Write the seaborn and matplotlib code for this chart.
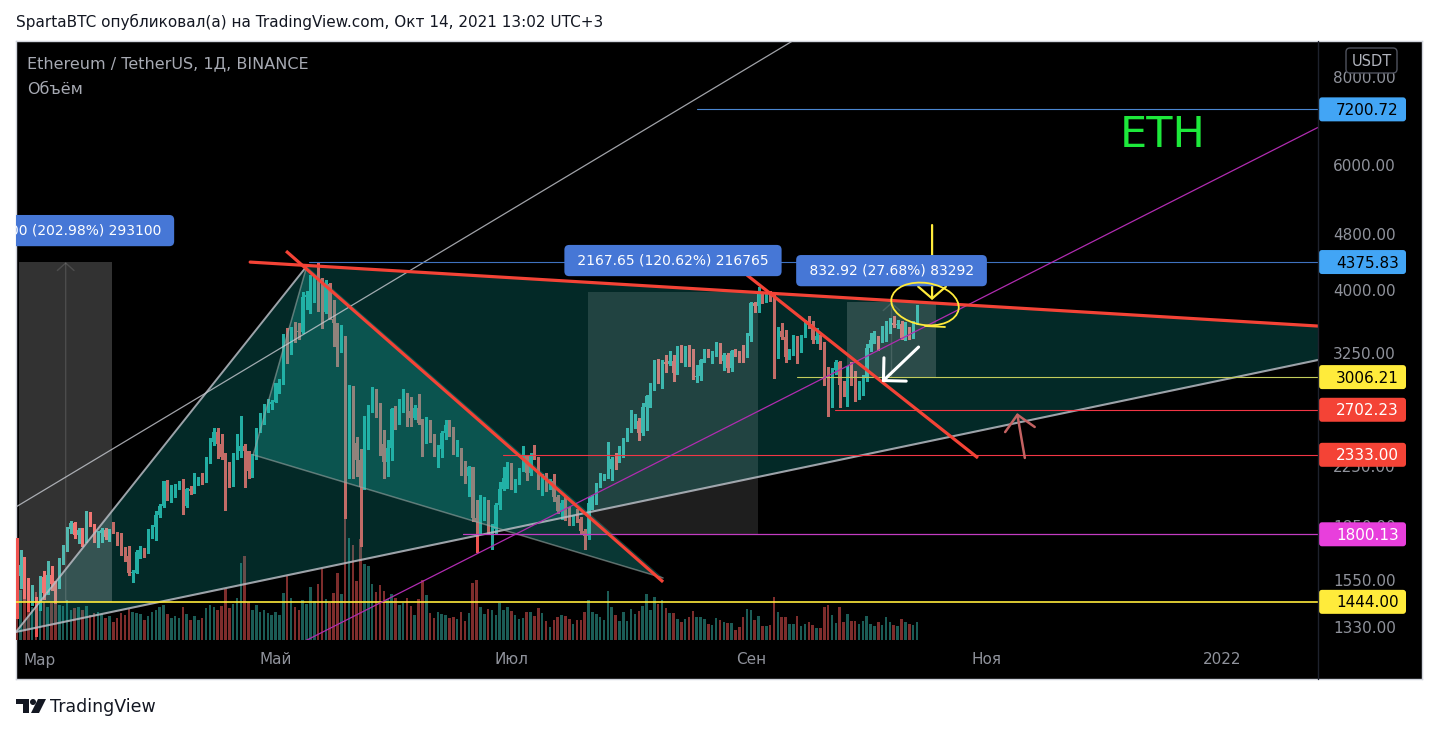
import numpy as np
import pandas as pd
import matplotlib
matplotlib.use("Agg")
import matplotlib.pyplot as plt
import matplotlib.dates as mdates
import matplotlib.patches as mpatches
import matplotlib.ticker as mticker
import seaborn as sns

# ETHUSDT daily candles (Binance), 22 Feb - 14 Oct 2021
first_open = 1935

close_feb = [1781, 1570, 1626, 1475, 1446, 1459, 1417]
high_feb = [1960, 1781, 1710, 1674, 1559, 1525, 1468]
low_feb = [1550, 1371, 1512, 1460, 1400, 1427, 1293]

close_mar = [1565, 1488, 1574, 1533, 1531, 1654, 1723, 1834, 1869, 1795, 1825, 1772, 1924, 1854, 1792, 1806,
             1823, 1782, 1815, 1812, 1786, 1688, 1678, 1586, 1587, 1701, 1716, 1691, 1819, 1846, 1919]
high_mar = [1570, 1598, 1652, 1622, 1547, 1668, 1736, 1846, 1878, 1872, 1837, 1840, 1944, 1933, 1862, 1817,
            1840, 1835, 1830, 1875, 1814, 1805, 1725, 1734, 1603, 1711, 1735, 1721, 1834, 1857, 1945]
low_mar = [1408, 1457, 1482, 1502, 1440, 1512, 1632, 1703, 1805, 1777, 1752, 1730, 1757, 1850, 1754, 1728,
           1753, 1775, 1762, 1806, 1738, 1685, 1651, 1577, 1541, 1585, 1664, 1672, 1691, 1777, 1768]

close_apr = [1977, 2143, 2028, 2093, 2108, 2118, 1972, 2089, 2072, 2136, 2157, 2139, 2299, 2432, 2514, 2420,
             2316, 2235, 2165, 2330, 2364, 2403, 2363, 2213, 2303, 2532, 2663, 2748, 2756, 2773]
high_apr = [1987, 2144, 2148, 2111, 2120, 2140, 2154, 2096, 2105, 2200, 2169, 2199, 2317, 2468, 2544, 2547,
            2497, 2349, 2278, 2345, 2497, 2644, 2415, 2363, 2340, 2549, 2675, 2758, 2798, 2794]
low_apr = [1904, 1969, 2016, 2000, 2033, 2085, 1923, 1970, 2053, 2063, 2112, 2122, 2135, 2272, 2410, 2310,
           2300, 1950, 2100, 2106, 2305, 2320, 2100, 2161, 2168, 2300, 2515, 2580, 2680, 2705]

close_may = [2945, 2950, 3431, 3240, 3522, 3490, 3484, 3902, 3928, 3952, 4168, 3785, 3718, 4079, 3639, 3586,
             3281, 3377, 2439, 2776, 2426, 2297, 2100, 2639, 2710, 2887, 2743, 2413, 2276, 2386, 2707]
high_may = [2950, 2983, 3459, 3530, 3542, 3598, 3590, 3970, 3980, 4197, 4187, 4372, 4147, 4129, 4087, 3866,
            3588, 3567, 3438, 2930, 2923, 2475, 2381, 2650, 2748, 2913, 2893, 2760, 2530, 2447, 2715]
low_may = [2772, 2850, 2940, 3150, 3237, 3374, 3400, 3470, 3750, 3700, 3842, 3725, 3528, 3700, 3628, 3325,
           3114, 3264, 1900, 2160, 2160, 2176, 1730, 2087, 2375, 2684, 2636, 2330, 2162, 2175, 2295]

close_jun = [2634, 2707, 2855, 2689, 2630, 2715, 2590, 2516, 2608, 2473, 2354, 2374, 2508, 2573, 2552, 2366,
             2373, 2231, 2178, 2244, 1900, 1875, 1970, 1990, 1811, 1829, 1983, 2085, 2160, 2275]
high_jun = [2740, 2800, 2891, 2858, 2818, 2743, 2845, 2620, 2640, 2614, 2493, 2410, 2522, 2613, 2610, 2556,
            2447, 2385, 2283, 2252, 2244, 2011, 2048, 2035, 2012, 1863, 1994, 2137, 2242, 2280]
low_jun = [2534, 2582, 2686, 2560, 2560, 2619, 2576, 2323, 2424, 2433, 2327, 2245, 2319, 2453, 2484, 2340,
           2324, 2184, 2130, 2040, 1880, 1700, 1810, 1885, 1806, 1717, 1802, 1952, 2077, 2096]

close_jul = [2113, 2150, 2226, 2322, 2198, 2323, 2317, 2116, 2146, 2111, 2140, 2035, 1940, 1995, 1917, 1877,
             1898, 1895, 1820, 1788, 1995, 2027, 2123, 2189, 2190, 2230, 2300, 2298, 2380, 2462, 2536]
high_jul = [2275, 2155, 2238, 2400, 2330, 2350, 2410, 2320, 2190, 2200, 2159, 2188, 2047, 2010, 2030, 1970,
            1919, 1954, 1905, 1832, 2034, 2044, 2130, 2200, 2194, 2432, 2317, 2344, 2398, 2467, 2550]
low_jul = [2090, 2069, 2119, 2210, 2150, 2185, 2298, 2084, 2045, 2071, 2090, 2006, 1931, 1890, 1885, 1855,
           1858, 1876, 1801, 1718, 1774, 1956, 1985, 2101, 2152, 2162, 2152, 2230, 2278, 2318, 2442]

close_aug = [2557, 2608, 2507, 2725, 2827, 2890, 3157, 3012, 3163, 3140, 3164, 3046, 3322, 3265, 3310, 3147,
             3011, 3018, 3183, 3287, 3225, 3242, 3324, 3173, 3226, 3101, 3274, 3243, 3226, 3225, 3433]
high_aug = [2700, 2665, 2630, 2760, 2840, 2950, 3180, 3185, 3177, 3228, 3274, 3232, 3330, 3333, 3330, 3335,
            3290, 3126, 3190, 3300, 3290, 3276, 3374, 3358, 3250, 3248, 3280, 3290, 3269, 3340, 3470]
low_aug = [2510, 2547, 2450, 2490, 2530, 2725, 2878, 2950, 2900, 3060, 3125, 2965, 3035, 3160, 3120, 3120,
           2985, 2960, 2975, 3155, 3212, 3150, 3225, 3148, 3081, 3055, 3071, 3216, 3155, 3160, 3205]

close_sep = [3834, 3790, 3940, 3887, 3952, 3926, 3430, 3497, 3427, 3211, 3266, 3407, 3288, 3429, 3613, 3572,
             3398, 3433, 3342, 2977, 2762, 3077, 3154, 2930, 2925, 3063, 2946, 2807, 2850, 3001]
high_sep = [3839, 3841, 4027, 3970, 3968, 3985, 3950, 3540, 3586, 3510, 3300, 3450, 3440, 3445, 3623, 3675,
            3610, 3532, 3445, 3370, 3108, 3100, 3175, 3170, 2970, 3114, 3160, 3070, 2970, 3030]
low_sep = [3386, 3712, 3715, 3832, 3841, 3853, 3000, 3200, 3400, 3163, 3191, 3233, 3145, 3263, 3423, 3524,
           3365, 3356, 3300, 2930, 2650, 2730, 3037, 2728, 2825, 2740, 2930, 2781, 2800, 2837]

close_oct = [3308, 3391, 3419, 3380, 3518, 3576, 3587, 3560, 3576, 3414, 3540, 3493, 3602, 3790]
high_oct = [3350, 3470, 3493, 3440, 3550, 3610, 3640, 3670, 3625, 3610, 3595, 3545, 3610, 3805]
low_oct = [2970, 3270, 3360, 3285, 3370, 3380, 3475, 3540, 3530, 3400, 3390, 3405, 3420, 3580]

# volume, thousand ETH
vol_feb = [3140, 2770, 1650, 1490, 1720, 1090, 1580]
vol_mar = [1320, 1250, 1090, 1220, 1320, 1160, 1120, 1320, 990, 1060, 1090, 990, 1120, 830, 890, 920,
           860, 730, 790, 590, 730, 890, 830, 1020, 920, 890, 860, 660, 790, 920, 990]
vol_apr = [1090, 1160, 860, 730, 790, 730, 1090, 860, 660, 790, 660, 730, 1060, 1160, 1090, 990,
           1120, 1680, 1060, 1190, 1390, 2540, 2770, 1250, 990, 1160, 920, 990, 890, 830]
vol_may = [920, 830, 1550, 2110, 1390, 1090, 990, 1320, 1190, 1750, 1290, 1850, 2340, 1350, 1220, 1550,
           2210, 1520, 4130, 3370, 3140, 1950, 3330, 2510, 2440, 1850, 1580, 1820, 1620, 1350, 1520]
vol_jun = [1390, 1160, 1220, 1390, 1120, 830, 1350, 1980, 1490, 890, 730, 920, 860, 830, 730, 760,
           690, 920, 630, 890, 1880, 1980, 1090, 860, 1020, 990, 830, 1220, 990, 1090]
vol_jul = [960, 830, 690, 730, 920, 920, 790, 1060, 890, 630, 430, 660, 760, 830, 790, 690,
           530, 660, 660, 920, 1320, 920, 860, 760, 660, 1620, 1090, 830, 630, 920, 630]
vol_aug = [1020, 860, 960, 1120, 1520, 990, 1420, 1190, 1320, 1060, 890, 890, 690, 590, 690, 760,
           960, 760, 760, 690, 530, 500, 730, 660, 590, 560, 560, 330, 430, 760, 1020]
vol_sep = [990, 660, 790, 460, 460, 500, 1420, 920, 760, 760, 530, 530, 790, 460, 530, 590,
           500, 400, 400, 1090, 1160, 830, 560, 1090, 590, 860, 630, 630, 530, 630]
vol_oct = [790, 530, 460, 590, 500, 760, 590, 500, 460, 690, 590, 530, 500, 590]

closes = close_feb + close_mar + close_apr + close_may + close_jun + close_jul + close_aug + close_sep + close_oct
highs = high_feb + high_mar + high_apr + high_may + high_jun + high_jul + high_aug + high_sep + high_oct
lows = low_feb + low_mar + low_apr + low_may + low_jun + low_jul + low_aug + low_sep + low_oct
volumes = vol_feb + vol_mar + vol_apr + vol_may + vol_jun + vol_jul + vol_aug + vol_sep + vol_oct

price_ticks = [1330, 1550, 1850, 2250, 3250, 4000, 4800, 6000, 8000]
month_ticks = ["2021-03-01", "2021-05-01", "2021-07-01", "2021-09-01", "2021-11-01", "2022-01-01"]
month_labels = ["Мар", "Май", "Июл", "Сен", "Ноя", "2022"]

# right-axis price tags: value, fill, text colour
tag_prices = [7200.72, 4375.83, 3006.21, 2702.23, 2333.00, 1800.13, 1444.00]
tag_fills = ["#42a5f5", "#42a5f5", "#ffeb3b", "#f44336", "#f44336", "#e83fdc", "#ffeb3b"]
tag_text = ["#000000", "#000000", "#000000", "#ffffff", "#ffffff", "#ffffff", "#000000"]

# ---------------------------------------------------------------------
dates = pd.date_range("2021-02-22", periods=len(closes), freq="D")
opens = [first_open] + closes[:-1]
df = pd.DataFrame({"date": dates, "open": opens, "high": highs, "low": lows,
                   "close": closes, "volume": volumes})
df["high"] = df[["high", "open", "close"]].max(axis=1)
df["low"] = df[["low", "open", "close"]].min(axis=1)
df["x"] = mdates.date2num(df["date"])
up = df["close"] >= df["open"]

UP, DOWN = "#26a69a", "#ef5350"
GRAY_TXT = "#8f929b"

sns.set_style("dark")
plt.rcParams["font.family"] = ["DejaVu Sans"]

W, H = 1438, 733
fig = plt.figure(figsize=(W / 100, H / 100), dpi=100, facecolor="white")


def frect(x0, y0, x1, y1):
    return [x0 / W, 1 - y1 / H, (x1 - x0) / W, (y1 - y0) / H]


bg = fig.add_axes(frect(16, 41, 1422, 679), zorder=-5)
bg.set_facecolor("black")
bg.set_xticks([])
bg.set_yticks([])
for s in bg.spines.values():
    s.set_color("#d1d4dc")
    s.set_linewidth(1)

ax_v = fig.add_axes(frect(16, 41, 1318, 640), zorder=1)
ax = fig.add_axes(frect(16, 41, 1318, 640), zorder=2, sharex=ax_v)
ax_v.set_facecolor("none")
ax.set_facecolor("none")

# volume
vcolors = np.where(up, "#1b5c56", "#7e2d2c")
ax_v.bar(df["x"], df["volume"], width=0.66, color=vcolors, linewidth=0)
ax_v.set_ylim(0, 19800)
ax_v.axis("off")

# candles
ccolors = np.where(up, UP, DOWN)
ax.vlines(df["x"], df["low"], df["high"], colors=ccolors, lw=1.0, zorder=2, antialiased=False)
body = np.maximum((df["close"] - df["open"]).abs(), df["close"] * 0.002)
ax.bar(df["x"], body, bottom=df[["open", "close"]].min(axis=1), width=0.7,
       color=ccolors, linewidth=0, zorder=2.1, antialiased=False)

ax.set_yscale("log")
ax.set_ylim(1275, 9000)
m1 = mdates.date2num(pd.Timestamp("2021-03-01"))
ax.set_xlim(m1 - 6.19, m1 + 330.8)
x_left, x_right = ax.get_xlim()

ax.grid(False)
for s in ax.spines.values():
    s.set_visible(False)
ax.yaxis.set_major_locator(mticker.FixedLocator(price_ticks))
ax.yaxis.set_major_formatter(mticker.FuncFormatter(lambda v, _: f"{v:.2f}"))
ax.yaxis.set_minor_locator(mticker.NullLocator())
ax.yaxis.tick_right()
ax.tick_params(axis="y", length=0, pad=11, labelsize=11, labelcolor=GRAY_TXT)
ax.set_xticks(mdates.date2num(pd.to_datetime(month_ticks)))
ax.set_xticklabels(month_labels)
ax.tick_params(axis="x", length=0, pad=9, labelsize=11, labelcolor=GRAY_TXT)


def T(s):
    return mdates.date2num(pd.Timestamp(s))


def ray(p1, p2, x0=None, x1=None):
    xa, xb = T(p1[0]), T(p2[0])
    ya, yb = np.log(p1[1]), np.log(p2[1])
    k = (yb - ya) / (xb - xa)
    xs = [xa if x0 is None else x0, xb if x1 is None else x1]
    return xs, [np.exp(ya + k * (xv - xa)) for xv in xs]


def poly(pts):
    return [[T(d), p] for d, p in pts]


# drawing anchors (date, price)
A = ("2021-02-22 19:00", 1309)
B = ("2021-05-09 02:00", 4319)
C = ("2022-02-27 00:00", 3460)
E = ("2021-04-25 05:00", 2333)
G = ("2021-08-09 07:00", 1561)

ax.add_patch(mpatches.Polygon(poly([A, B, C]), closed=True, fc=(18 / 255, 210 / 255, 200 / 255, 0.2),
                              ec="none", zorder=3))
ax.add_patch(mpatches.Polygon(poly([E, B, G]), closed=True, fc=(31 / 255, 185 / 255, 173 / 255, 0.3),
                              ec="none", zorder=3.1))

# price-range boxes
ranges = [("2021-02-23 16:00", "2021-03-19 16:00", 1444.00, 4375.00, 0.20, "2931.00 (202.98%) 293100", True),
          ("2021-07-20 19:00", "2021-09-02 22:00", 1800.13, 3967.78, 0.12, "2167.65 (120.62%) 216765", False),
          ("2021-09-25 22:00", "2021-10-18 22:00", 3006.21, 3839.13, 0.16, "832.92 (27.68%) 83292", True)]
for i, (d0, d1, p0, p1, a, txt, mid) in enumerate(ranges):
    ax.add_patch(mpatches.Rectangle((T(d0), p0), T(d1) - T(d0), p1 - p0, fc=(1, 1, 1, a), ec="none", zorder=3.2))
    xc = (T(d0) + T(d1)) / 2
    if mid:
        ax.annotate("", xy=(xc, p1), xytext=(xc, p0),
                    arrowprops=dict(arrowstyle="->,head_length=0.27,head_width=0.3", color=(1, 1, 1, 0.13),
                                    lw=1, mutation_scale=20, shrinkA=0, shrinkB=0), zorder=3.3)
    ax.annotate(f" {txt} ", xy=(xc, p1), xytext=(0, 31.5), textcoords="offset pixels", ha="center",
                va="center", fontsize=10, color="white", zorder=8, clip_on=(i == 0), annotation_clip=False,
                bbox=dict(boxstyle="round,pad=0.62,rounding_size=0.35", fc="#4677d6", ec="none"))

# gray trend lines
ax.plot(*ray(A, B), color="#b8bcc4", lw=1.4, alpha=0.85, zorder=4)
ax.plot(*ray(A, C), color="#b8bcc4", lw=1.5, alpha=0.85, zorder=4)
ax.plot(*ray(E, B), color="#9aa5a3", lw=1.1, alpha=0.6, zorder=4)
ax.plot(*ray(E, G), color="#9aa5a3", lw=1.1, alpha=0.6, zorder=4)
ax.plot(*ray(("2021-02-22 19:00", 1968), ("2021-05-16 14:00", 3681), x1=x_right),
        color="#c8cbd2", lw=0.9, alpha=0.8, zorder=4)
ax.plot(*ray(("2021-05-10 17:00", 1288), ("2021-11-25 05:00", 4580), x0=x_left, x1=x_right),
        color="#b02cb0", lw=0.9, zorder=4.2)

# horizontal levels
hlines = [(7200.72, "2021-08-18 02:00", "#4a86d0", 0.8),
          (4375.83, "2021-05-09 14:00", "#3f72bf", 0.8),
          (3006.21, "2021-09-12 22:00", "#c3cc5c", 0.8),
          (2702.23, "2021-09-22 19:00", "#f23645", 0.8),
          (2333.00, "2021-06-28 19:00", "#f23645", 0.8),
          (1800.13, "2021-06-18 12:00", "#c23cc2", 0.9),
          (1444.00, None, "#ffeb3b", 1.2)]
for price, start, col, lw in hlines:
    xs = x_left if start is None else T(start)
    ax.plot([xs, x_right], [price, price], color=col, lw=lw, zorder=4.1)

# red trend lines
RED = "#f44336"
ax.plot(*ray(("2021-04-24 10:00", 4375), ("2022-01-25 19:00", 3551), x1=x_right), color=RED, lw=2.3, zorder=5)
ax.plot(*ray(("2021-05-03 17:00", 4535), ("2021-08-09 07:00", 1541)), color=RED, lw=2.3, zorder=5,
        solid_capstyle="butt")
ax.plot(*ray(("2021-08-31 00:00", 4194), ("2021-10-29 19:00", 2309)), color=RED, lw=2.3, zorder=5,
        solid_capstyle="butt")


def arrow(tail, head, color, lw, hl, hw):
    ax.annotate("", xy=(T(head[0]), head[1]), xytext=(T(tail[0]), tail[1]), zorder=6,
                arrowprops=dict(arrowstyle=f"->,head_length={hl},head_width={hw}", color=color, lw=lw,
                                mutation_scale=20, shrinkA=0, shrinkB=0))


arrow(("2021-10-17 22:00", 4937), ("2021-10-17 22:00", 3866), "#ffeb3b", 1.6, 0.43, 0.5)
arrow(("2021-10-14 10:00", 3316), ("2021-10-04 22:00", 2958), "white", 2.2, 0.58, 0.58)
arrow(("2021-11-10 22:00", 2309), ("2021-11-08 22:00", 2674), "#c46262", 1.8, 0.54, 0.54)

ax.text(T("2021-12-16 17:00"), 6622, "ETH", color="#1de93b", fontsize=31, ha="center", va="center", zorder=6)

# ---------------------------------------------------------------------
# overlay in figure pixels: header, price tags, yellow circle, logo
ov = fig.add_axes([0, 0, 1, 1], zorder=10)
ov.set_xlim(0, W)
ov.set_ylim(H, 0)
ov.axis("off")


def to_px(xd, price):
    X, Y = ax.transData.transform((xd, price))
    return X, H - Y


ov.plot([1318, 1318], [41, 679], color="#1e222d", lw=1)

for price, fc, tc in zip(tag_prices, tag_fills, tag_text):
    _, py = to_px(x_right, price)
    ov.add_patch(mpatches.FancyBboxPatch((1319, py - 12), 87, 24, boxstyle="round,pad=0,rounding_size=3",
                                         fc=fc, ec="none"))
    ov.text(1336, py + 1, f"{price:.2f}", color=tc, fontsize=11, va="center", ha="left")

ov.add_patch(mpatches.FancyBboxPatch((1346, 48), 51, 25, boxstyle="round,pad=0,rounding_size=4",
                                     fc="black", ec="#50535e", lw=1))
ov.text(1371.5, 61, "USDT", color="#b2b5be", fontsize=10.5, ha="center", va="center")

cx, cy = to_px(T("2021-10-16 02:00"), 3816)
ov.add_patch(mpatches.Ellipse((cx, cy), 68, 42, angle=9, fc="none", ec="#ffeb3b", lw=1.3))
ov.plot([cx, cx + 20], [cy + 22, cy + 23], color="#ffeb3b", lw=1.3)

ov.text(16, 22, "SpartaBTC опубликовал(а) на TradingView.com, Окт 14, 2021 13:02 UTC+3",
        fontsize=11, color="#131722", va="center")
ov.text(27, 64, "Ethereum / TetherUS, 1Д, BINANCE", fontsize=11.5, color="#a7aab3", va="center")
ov.text(27, 90, "Объём", fontsize=11.5, color="#a7aab3", va="center")

ov.add_patch(mpatches.Rectangle((16, 699), 13, 5, fc="#131722", ec="none"))
ov.add_patch(mpatches.Rectangle((23, 699), 6, 14, fc="#131722", ec="none"))
ov.add_patch(mpatches.Circle((33, 702), 3, fc="#131722", ec="none"))
ov.add_patch(mpatches.Polygon([[38, 699], [46, 699], [39, 713], [31, 713]], fc="#131722", ec="none"))
ov.text(50, 707, "TradingView", fontsize=12.5, color="#131722", va="center")

fig.savefig("out.png", dpi=100, facecolor="white")
